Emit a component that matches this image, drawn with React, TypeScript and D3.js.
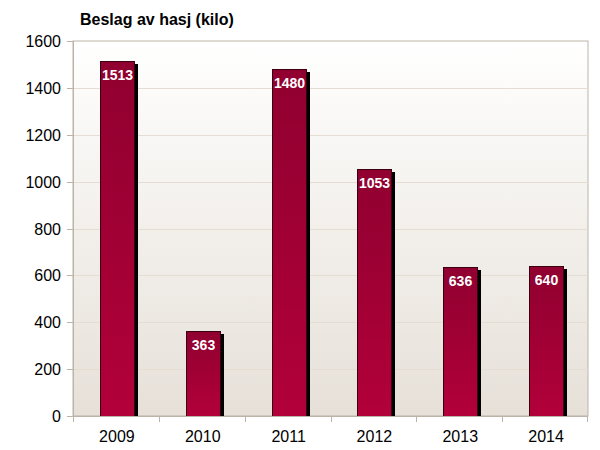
import React from "react";
import * as d3 from "d3";

const years = ["2009", "2010", "2011", "2012", "2013", "2014"];
const values = [1513, 363, 1480, 1053, 636, 640];
const yTicks = [0, 200, 400, 600, 800, 1000, 1200, 1400, 1600];
const title = "Beslag av hasj (kilo)";

export default function App() {
  const W = 600, H = 450;
  const left = 73, right = 588, top = 41, bottom = 416;
  const x = d3.scaleBand<string>().domain(years).range([left, right]).paddingInner(0).paddingOuter(0);
  const y = d3.scaleLinear().domain([0, 1600]).range([bottom, top]);
  const bw = 34;
  const font = "Arial, 'Liberation Sans', sans-serif";
  return (
    <svg width={W} height={H} style={{ position: "absolute", left: 0, top: 0 }} fontFamily={font}>
      <defs>
        <linearGradient id="bg" x1="0" y1="0" x2="0" y2="1">
          <stop offset="0" stopColor="#ffffff" />
          <stop offset="1" stopColor="#e6e0d8" />
        </linearGradient>
        <linearGradient id="bar" x1="0" y1="0" x2="0" y2="1">
          <stop offset="0" stopColor="#900030" />
          <stop offset="1" stopColor="#b2003a" />
        </linearGradient>
      </defs>
      <rect x={0} y={0} width={W} height={H} fill="#ffffff" />
      <rect x={left} y={top} width={right - left} height={bottom - top} fill="url(#bg)" stroke="#bdb3a8" strokeWidth={1} />
      {yTicks.slice(1, -1).map((t) => (
        <line key={t} x1={left} x2={right} y1={Math.round(y(t)) + 0.5} y2={Math.round(y(t)) + 0.5} stroke="#e6ddd2" strokeWidth={1} />
      ))}
      {years.map((yr, i) => {
        const cx = (x(yr) as number) + x.bandwidth() / 2;
        const bx = Math.round(cx - bw / 2 + 1);
        const by = Math.round(y(values[i]));
        const bh = bottom - by;
        return (
          <g key={yr}>
            <rect x={bx + 4} y={by + 3} width={bw} height={bh - 3} fill="#000" />
            <rect x={bx + 0.5} y={by + 0.5} width={bw} height={bh} fill="url(#bar)" stroke="#3a0010" strokeWidth={1} />
            <text x={bx + bw / 2 + 0.5} y={by + 19} textAnchor="middle" fill="#fff" fontWeight="bold" fontSize={14}>
              {values[i]}
            </text>
          </g>
        );
      })}
      <line x1={left + 0.5} x2={left + 0.5} y1={top} y2={bottom} stroke="#bdb3a8" />
      <line x1={left - 6} x2={right} y1={bottom + 0.5} y2={bottom + 0.5} stroke="#bdb3a8" />
      {yTicks.map((t) => (
        <g key={t}>
          <line x1={left - 6} x2={left} y1={Math.round(y(t)) + 0.5} y2={Math.round(y(t)) + 0.5} stroke="#bdb3a8" />
          <text x={61} y={y(t) + 6} textAnchor="end" fontSize={16} fill="#000">{t}</text>
        </g>
      ))}
      {years.map((yr) => (
        <line key={"t" + yr} x1={Math.round(x(yr) as number) + 0.5} x2={Math.round(x(yr) as number) + 0.5} y1={bottom} y2={bottom + 6} stroke="#bdb3a8" />
      ))}
      <line x1={right - 0.5} x2={right - 0.5} y1={bottom} y2={bottom + 6} stroke="#bdb3a8" />
      {years.map((yr) => (
        <text key={"l" + yr} x={(x(yr) as number) + x.bandwidth() / 2 + 1} y={442} textAnchor="middle" fontSize={16} fill="#000">{yr}</text>
      ))}
      <text x={80} y={25} fontSize={16} fontWeight="bold" fill="#000">{title}</text>
    </svg>
  );
}
